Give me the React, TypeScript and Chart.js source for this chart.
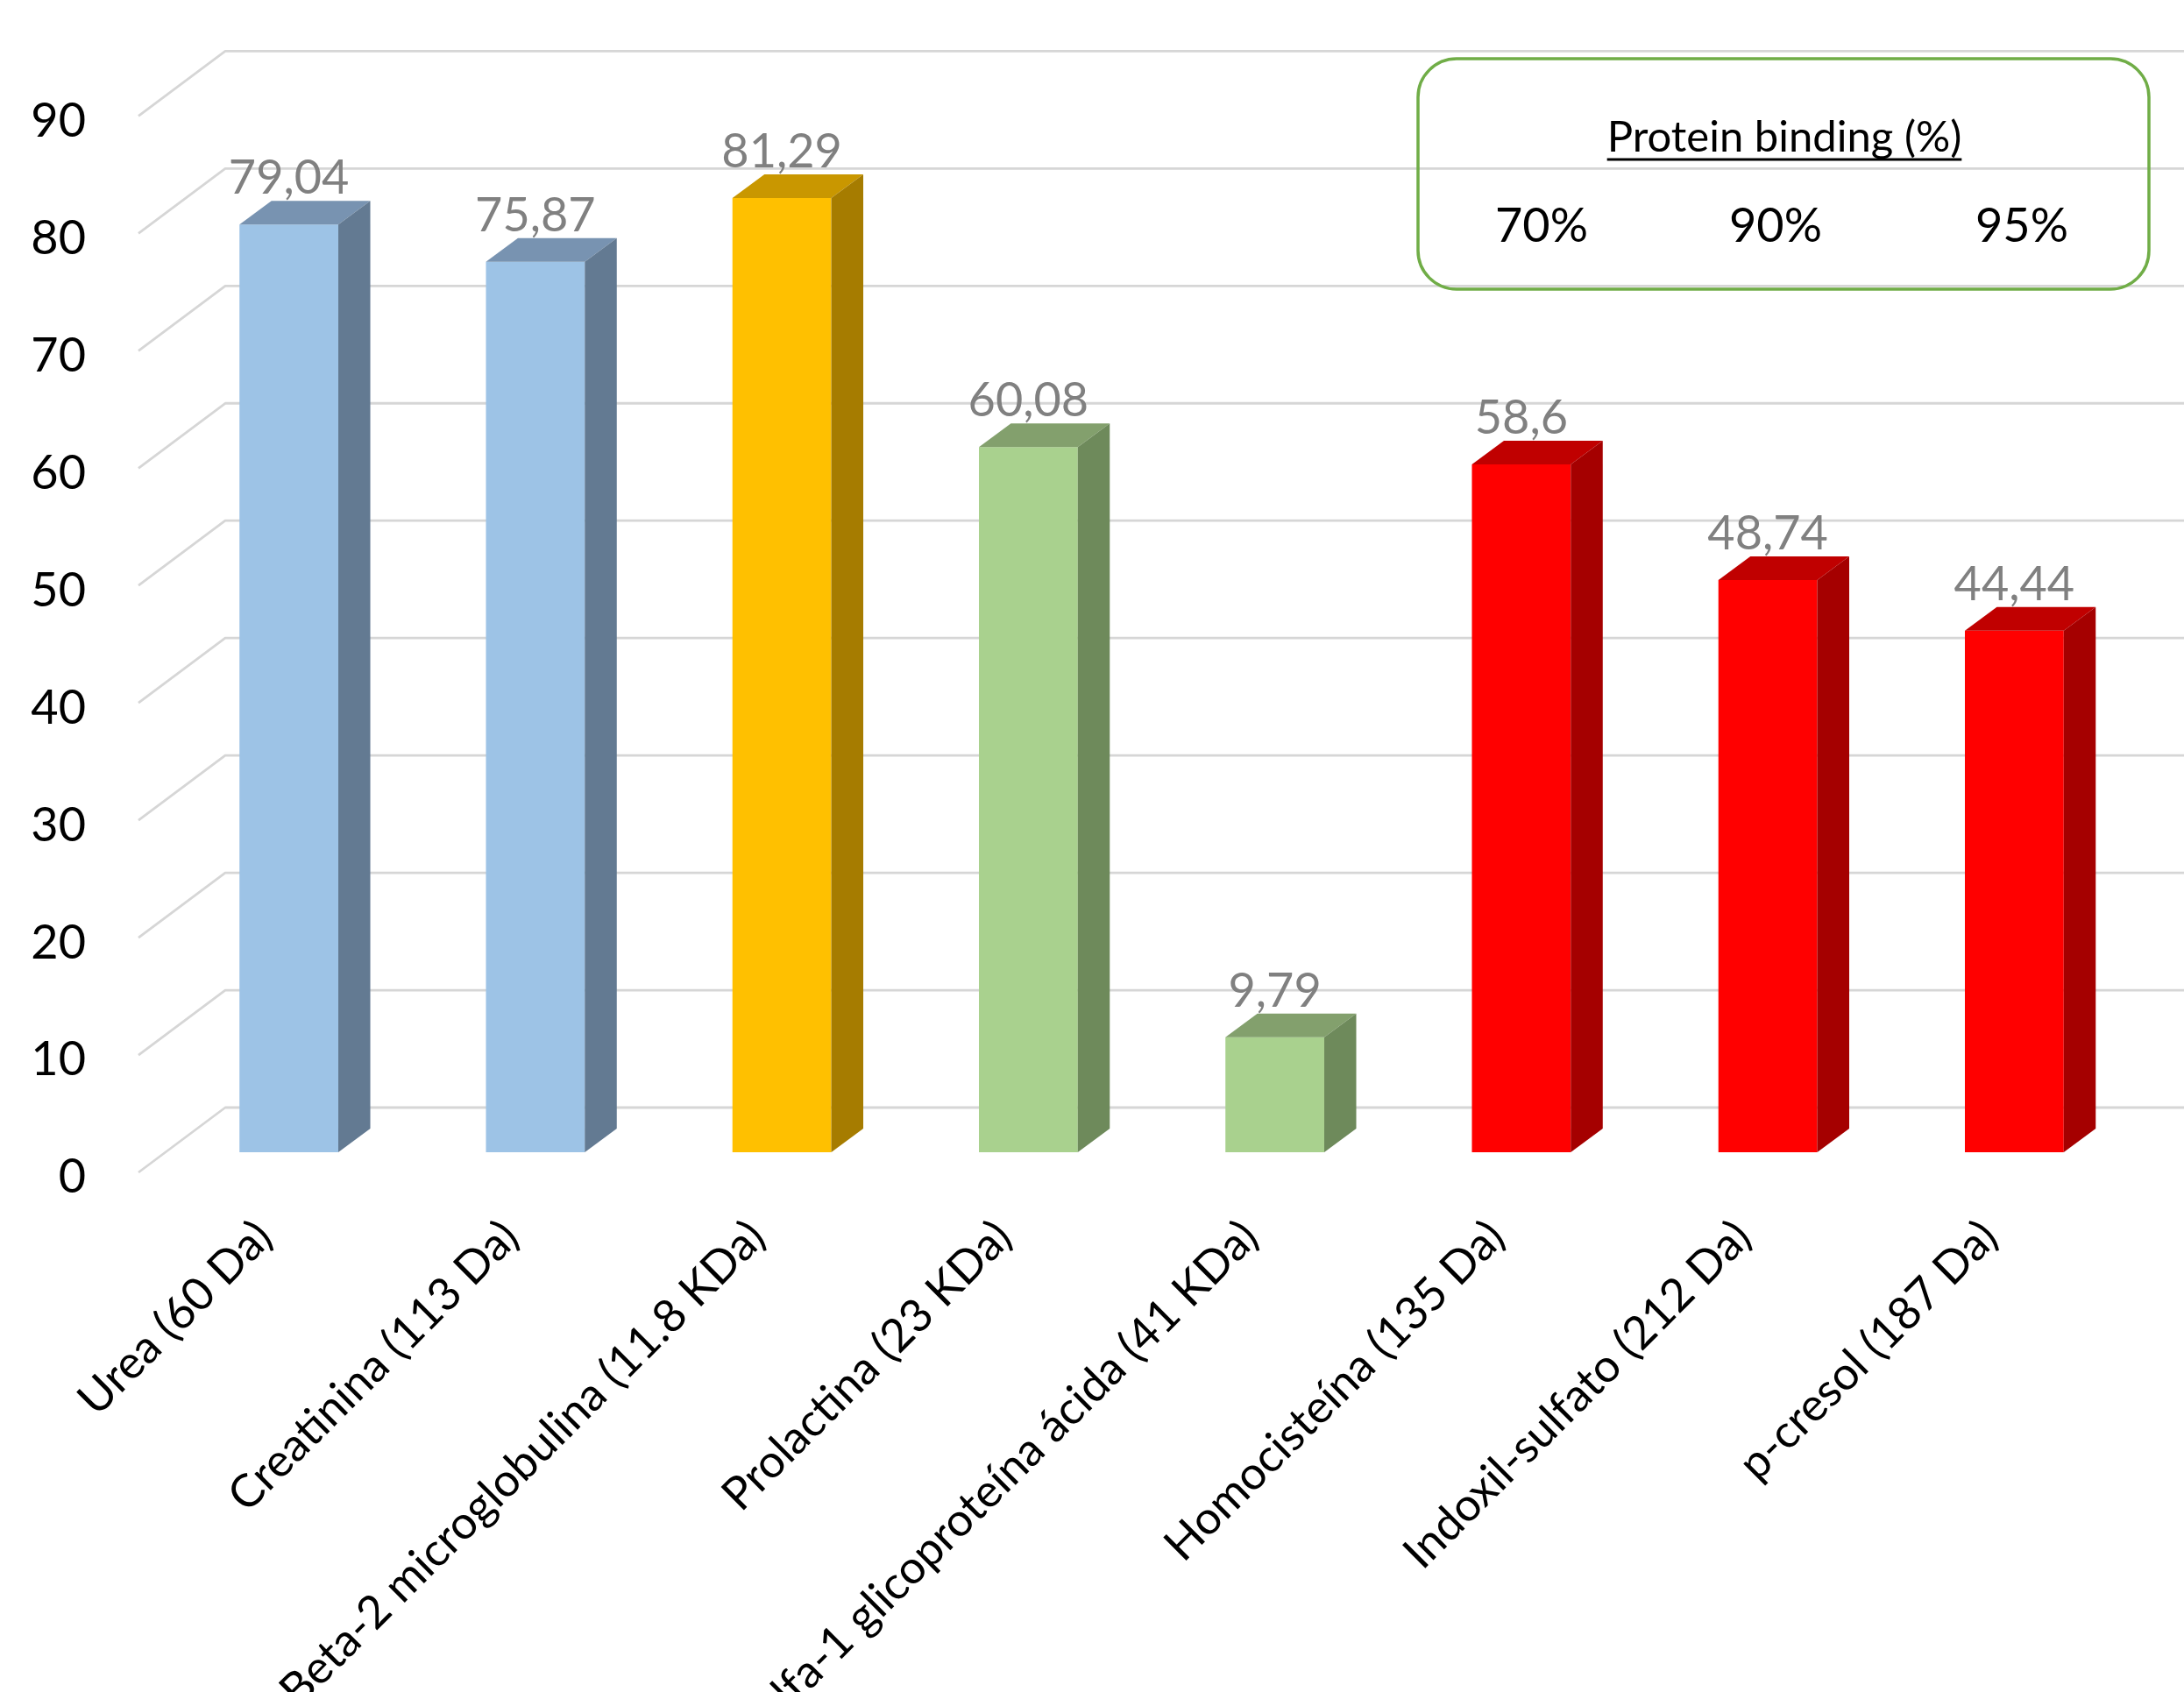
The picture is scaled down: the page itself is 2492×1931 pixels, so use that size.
import React, { useEffect, useRef } from 'react';
import { Chart, registerables } from 'chart.js';

Chart.register(...registerables);

// ---- data ----
const categories = [
  'Urea (60 Da)',
  'Creatinina (113 Da)',
  'Beta-2 microglobulina (11.8 KDa)',
  'Prolactina (23 KDa)',
  'Alfa-1 glicoproteína ácida (41 KDa)',
  'Homocisteína (135 Da)',
  'Indoxil-sulfato (212 Da)',
  'p-cresol (187 Da)',
];
const clearanceValues = [79.04, 75.87, 81.29, 60.08, 9.79, 58.6, 48.74, 44.44];
const barGroups = ['blue', 'blue', 'gold', 'green', 'green', 'red', 'red', 'red'];
const yMin = 0;
const yMax = 90;
const yStep = 10;
const legendTitle = 'Protein binding (%)';
const bindingLabels = ['70%', '90%', '95%'];

// ---- styling ----
const W = 2492;
const H = 1931;
const FONT = 'Lato, "Noto Sans", sans-serif';

const palette: Record<string, { front: string; side: string; top: string }> = {
  blue: { front: '#9DC3E6', side: '#637A92', top: '#7893B1' },
  gold: { front: '#FFC000', side: '#A67C00', top: '#C99700' },
  green: { front: '#A9D18E', side: '#6E8A5B', top: '#83A06D' },
  red: { front: '#FF0000', side: '#A50000', top: '#C00000' },
};

// depth of each bar (extrusion toward the back wall)
const BAR_DX = 36.5;
const BAR_DY = 27;
// floor edge / back wall offsets relative to the plot area and the value pixel
const WALL = { frontDx: -31, frontDy: 23, backDx: 68, backDy: -51 };

const formatValue = (v: number) => String(v).replace('.', ',');

const bar3dPlugin = {
  id: 'bar3d',
  beforeDatasetsDraw(chart: any) {
    const { ctx, chartArea } = chart;
    const yScale = chart.scales.y;
    ctx.save();
    ctx.strokeStyle = '#D6D6D6';
    ctx.lineWidth = 2.8;
    ctx.lineJoin = 'round';
    yScale.ticks.forEach((t: any) => {
      const p = yScale.getPixelForValue(t.value);
      ctx.beginPath();
      ctx.moveTo(chartArea.left + WALL.frontDx, p + WALL.frontDy);
      ctx.lineTo(chartArea.left + WALL.backDx, p + WALL.backDy);
      ctx.lineTo(chart.width, p + WALL.backDy);
      ctx.stroke();
    });
    ctx.restore();
  },
  afterDatasetsDraw(chart: any) {
    const { ctx } = chart;
    const meta = chart.getDatasetMeta(0);
    ctx.save();
    meta.data.forEach((el: any, i: number) => {
      const { x, y, base, width } = el.getProps(['x', 'y', 'base', 'width'], true);
      const l = x - width / 2;
      const r = x + width / 2;
      const c = palette[barGroups[i]];
      // top face
      ctx.fillStyle = c.top;
      ctx.beginPath();
      ctx.moveTo(l, y);
      ctx.lineTo(r, y);
      ctx.lineTo(r + BAR_DX, y - BAR_DY);
      ctx.lineTo(l + BAR_DX, y - BAR_DY);
      ctx.closePath();
      ctx.fill();
      // side face
      ctx.fillStyle = c.side;
      ctx.beginPath();
      ctx.moveTo(r, y);
      ctx.lineTo(r + BAR_DX, y - BAR_DY);
      ctx.lineTo(r + BAR_DX, base - BAR_DY);
      ctx.lineTo(r, base);
      ctx.closePath();
      ctx.fill();
      // value label
      ctx.fillStyle = '#808080';
      ctx.font = `54px ${FONT}`;
      ctx.textAlign = 'center';
      ctx.textBaseline = 'alphabetic';
      ctx.fillText(formatValue(clearanceValues[i]), x, y - 35);
    });
    ctx.restore();
  },
};

const bindingLegendPlugin = {
  id: 'bindingLegend',
  afterDraw(chart: any) {
    const { ctx } = chart;
    const box = { x: 1618, y: 67, w: 834, h: 263, r: 44 };
    ctx.save();
    ctx.strokeStyle = '#70AD47';
    ctx.lineWidth = 3.5;
    ctx.beginPath();
    ctx.roundRect(box.x, box.y, box.w, box.h, box.r);
    ctx.stroke();

    const cx = box.x + box.w / 2 + 1;
    ctx.fillStyle = '#000';
    ctx.textAlign = 'center';
    ctx.textBaseline = 'alphabetic';
    ctx.font = `49px ${FONT}`;
    const titleBase = 173;
    ctx.fillText(legendTitle, cx, titleBase);
    const tw = ctx.measureText(legendTitle).width;
    ctx.strokeStyle = '#000';
    ctx.lineWidth = 3;
    ctx.beginPath();
    ctx.moveTo(cx - tw / 2, titleBase + 9);
    ctx.lineTo(cx + tw / 2, titleBase + 9);
    ctx.stroke();

    ctx.font = `54px ${FONT}`;
    const itemX = [1759, 2026, 2307];
    bindingLabels.forEach((lab, i) => {
      ctx.fillText(lab, itemX[i], 276);
    });
    ctx.restore();
  },
};

export default function App() {
  const canvasRef = useRef<HTMLCanvasElement>(null);

  useEffect(() => {
    document.body.style.margin = '0';
    document.body.style.overflow = 'hidden';
    let chart: Chart | null = null;
    let cancelled = false;

    const build = () => {
      if (cancelled || !canvasRef.current) return;
      chart = new Chart(canvasRef.current, {
        type: 'bar',
        data: {
          labels: categories,
          datasets: [
            {
              data: clearanceValues,
              backgroundColor: barGroups.map((g) => palette[g].front),
              borderWidth: 0,
              barPercentage: 0.401,
              categoryPercentage: 1,
            },
          ],
        },
        options: {
          responsive: false,
          animation: false,
          devicePixelRatio: 1,
          layout: { padding: { top: 109.4, right: 53, left: 0, bottom: 0 } },
          plugins: {
            legend: { display: false },
            tooltip: { enabled: false },
          },
          scales: {
            x: {
              grid: { display: false, drawTicks: false },
              border: { display: false },
              ticks: {
                autoSkip: false,
                minRotation: 45,
                maxRotation: 45,
                padding: 66,
                labelOffset: -28,
                color: '#000',
                font: { family: FONT, size: 52 },
              },
              afterFit: (scale: any) => {
                scale.height = 616;
              },
            },
            y: {
              min: yMin,
              max: yMax,
              grid: { display: false, drawTicks: false },
              border: { display: false },
              ticks: {
                stepSize: yStep,
                padding: 91,
                labelOffset: 29,
                color: '#000',
                font: { family: FONT, size: 54 },
              },
              afterFit: (scale: any) => {
                scale.width = 189;
                // labels are pushed below their value pixel, so no extra room is needed
                scale.paddingTop = 0;
                scale.paddingBottom = 0;
              },
            },
          },
        },
        plugins: [bar3dPlugin, bindingLegendPlugin],
      } as any);
    };

    Promise.all([
      document.fonts.load(`54px Lato`),
      document.fonts.load(`49px Lato`),
    ]).then(build, build);

    return () => {
      cancelled = true;
      if (chart) chart.destroy();
    };
  }, []);

  return (
    <div style={{ position: 'absolute', left: 0, top: 0, width: W, height: H, background: '#fff' }}>
      <canvas ref={canvasRef} width={W} height={H} style={{ width: W, height: H, display: 'block' }} />
    </div>
  );
}
